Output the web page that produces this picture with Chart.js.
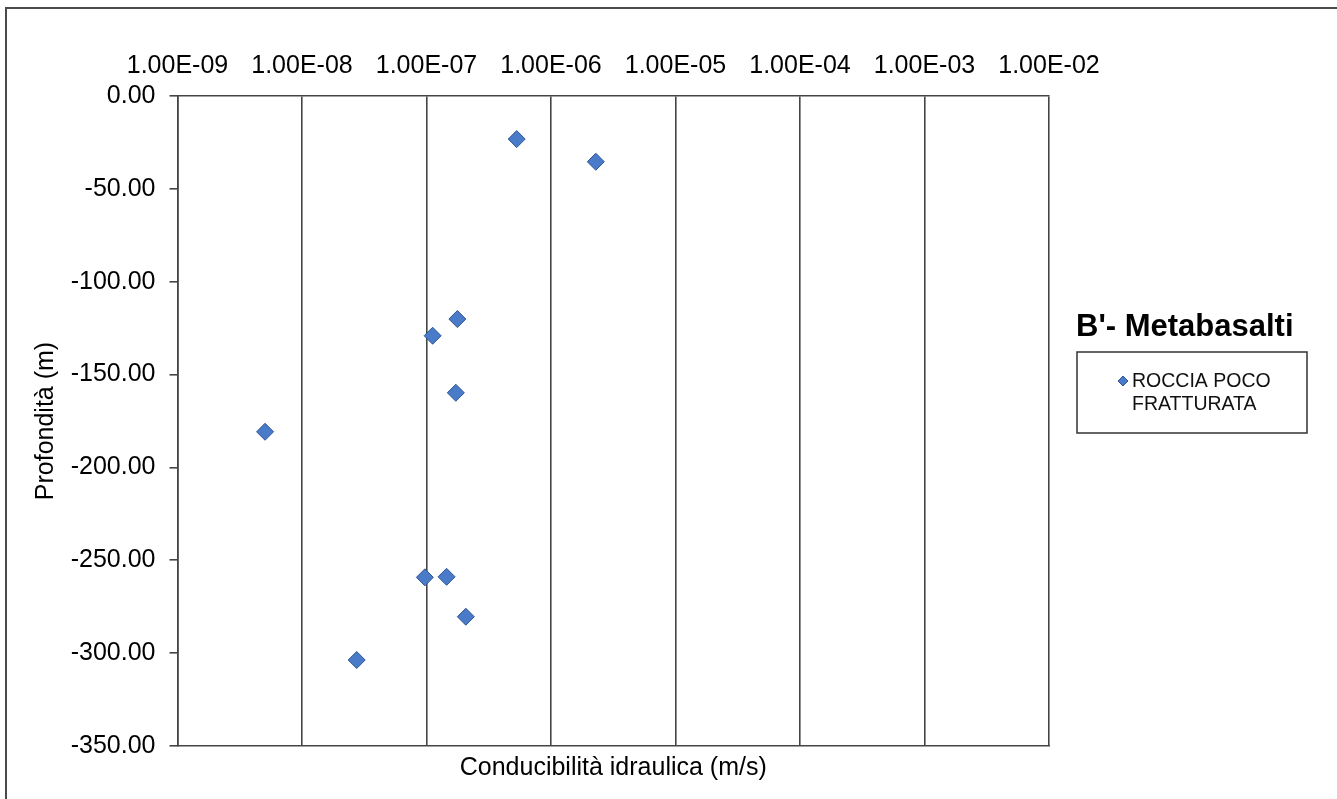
<!DOCTYPE html>
<html>
<head>
<meta charset="utf-8">
<script src="https://cdn.jsdelivr.net/npm/chart.js@4.4.1/dist/chart.umd.min.js"></script>
<style>
  html, body { margin: 0; padding: 0; background: #fff; overflow: hidden; }
  #wrap { position: relative; width: 1337px; height: 799px; }
  #frame { position: absolute; left: 5px; top: 7px; width: 1400px; height: 900px;
           border-left: 2px solid #4a4a4a; border-top: 2px solid #4a4a4a; pointer-events: none; }
  canvas { position: absolute; left: 0; top: 0; }
</style>
</head>
<body>
<div id="wrap">
  <div id="frame"></div>
  <canvas id="c" width="1337" height="799"></canvas>
</div>
<script>
// ---- data ----
const chartTitle = "B'- Metabasalti";
const seriesLabelLines = ['ROCCIA POCO', 'FRATTURATA'];
const xAxisTitle = 'Conducibilità idraulica (m/s)';
const yAxisTitle = 'Profondità (m)';
const xTickValues = [1e-9, 1e-8, 1e-7, 1e-6, 1e-5, 1e-4, 1e-3, 1e-2];
const yTickValues = [0, -50, -100, -150, -200, -250, -300, -350];
const conductivity = [5.30e-7, 2.29e-6, 1.77e-7, 1.12e-7, 1.72e-7, 5.05e-9, 9.7e-8, 1.45e-7, 2.07e-7, 2.75e-8];
const depth = [-23.2, -35.4, -120.1, -129.1, -159.8, -180.8, -259.2, -258.9, -280.4, -303.7];

const FONT = '"Liberation Sans", Arial, sans-serif';
const LINE = '#454545';
const points = conductivity.map((k, i) => ({ x: k, y: depth[i] }));

function fmtExp(v) {
  const [m, e] = v.toExponential(2).split('e');
  const n = parseInt(e, 10);
  return m + 'E' + (n < 0 ? '-' : '+') + String(Math.abs(n)).padStart(2, '0');
}

const legendPlugin = {
  id: 'sideLegend',
  afterDraw(chart) {
    const ctx = chart.ctx;
    const ds = chart.data.datasets[0];
    ctx.save();
    ctx.fillStyle = '#000';
    ctx.font = 'bold 31px ' + FONT;
    ctx.textBaseline = 'alphabetic';
    ctx.textAlign = 'left';
    ctx.fillText(chartTitle, 1076, 336);
    ctx.strokeStyle = '#333';
    ctx.lineWidth = 1.5;
    ctx.strokeRect(1077, 352, 230, 81);
    // marker
    const mx = 1123, my = 381, r = 5;
    ctx.beginPath();
    ctx.moveTo(mx - r, my); ctx.lineTo(mx, my - r); ctx.lineTo(mx + r, my); ctx.lineTo(mx, my + r); ctx.closePath();
    ctx.fillStyle = ds.backgroundColor; ctx.fill();
    ctx.strokeStyle = ds.borderColor; ctx.lineWidth = 1; ctx.stroke();
    ctx.fillStyle = '#111';
    ctx.font = '19.5px ' + FONT;
    seriesLabelLines.forEach((t, i) => ctx.fillText(t, 1132, 387 + i * 23));
    ctx.restore();
  }
};

new Chart(document.getElementById('c'), {
  type: 'scatter',
  data: {
    datasets: [{
      label: seriesLabelLines.join(' '),
      data: points,
      pointStyle: 'rectRot',
      pointRadius: 8.5,
      pointHoverRadius: 8.5,
      backgroundColor: '#4A7BC8',
      borderColor: '#2F5597',
      borderWidth: 1
    }]
  },
  options: {
    responsive: false,
    animation: false,
    layout: { padding: { left: 0, top: 0, bottom: 0, right: 288 } },
    plugins: { legend: { display: false }, tooltip: { enabled: false }, title: { display: false } },
    scales: {
      x: {
        type: 'logarithmic',
        position: 'top',
        min: xTickValues[0],
        max: xTickValues[xTickValues.length - 1],
        afterBuildTicks: s => { s.ticks = xTickValues.map(v => ({ value: v })); },
        afterFit: s => { s.height = 96; },
        ticks: { callback: v => fmtExp(v), color: '#000', font: { family: FONT, size: 25 }, padding: 15, maxRotation: 0, autoSkip: false },
        grid: { color: LINE, lineWidth: 1.6, drawTicks: false },
        border: { color: LINE, width: 1.6 }
      },
      x2: {
        type: 'linear',
        position: 'bottom',
        min: 0, max: 1,
        afterFit: s => { s.height = 53; },
        ticks: { display: false },
        grid: { display: false, drawTicks: false },
        border: { color: LINE, width: 1.6 },
        title: { display: true, text: xAxisTitle, color: '#000', font: { family: FONT, size: 25 }, padding: { top: 0, bottom: 16 } }
      },
      y: {
        type: 'linear',
        min: yTickValues[yTickValues.length - 1],
        max: yTickValues[0],
        afterBuildTicks: s => { s.ticks = yTickValues.map(v => ({ value: v })); },
        afterFit: s => { s.width = 177.5; },
        ticks: { callback: v => Number(v).toFixed(2), color: '#000', font: { family: FONT, size: 25 }, padding: 14 },
        grid: { drawOnChartArea: false, drawTicks: true, tickLength: 8, color: LINE, lineWidth: 1.6 },
        border: { color: LINE, width: 1.6 },
        title: { display: true, text: yAxisTitle, color: '#000', font: { family: FONT, size: 25 }, padding: { top: 31, bottom: 0 } }
      }
    }
  },
  plugins: [legendPlugin]
});
</script>
</body>
</html>
